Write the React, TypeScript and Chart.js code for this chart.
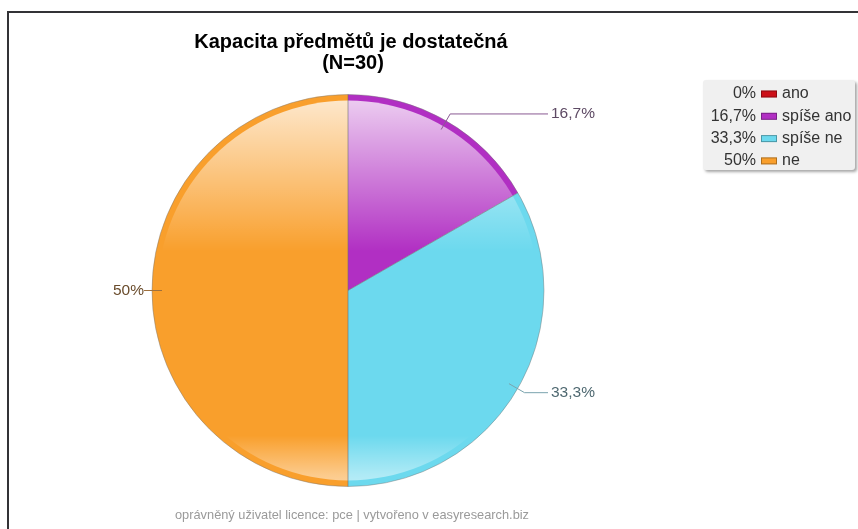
import React, { useEffect, useRef } from "react";
import { Chart, registerables } from "chart.js";

Chart.register(...registerables);

const categories = ["ano", "spíše ano", "spíše ne", "ne"];
const values = [0, 16.7, 33.3, 50];
const percentLabels = ["0%", "16,7%", "33,3%", "50%"];
const colors = ["#cc1018", "#b12fc3", "#6cd9ee", "#f99f2c"];
const labelTextColors = ["#5a3030", "#5e4a64", "#4e6870", "#6a4c2c"];
const labelLineColors = ["#a05050", "#8a5a92", "#7aa4ae", "#a0703c"];
const titleLines = ["Kapacita předmětů je dostatečná", "(N=30)"];
const footerText = "oprávněný uživatel licence: pce | vytvořeno v easyresearch.biz";

const FONT = "Arial, 'Liberation Sans', sans-serif";

const decorPlugin = {
  id: "decor",
  beforeDraw(chart: any) {
    const ctx = chart.ctx;
    ctx.save();
    ctx.fillStyle = "#ffffff";
    ctx.fillRect(0, 0, chart.width, chart.height);
    ctx.strokeStyle = "#333336";
    ctx.lineWidth = 2;
    ctx.beginPath();
    ctx.moveTo(8, chart.height);
    ctx.lineTo(8, 12);
    ctx.lineTo(chart.width, 12);
    ctx.stroke();
    ctx.restore();
  },
  afterDatasetsDraw(chart: any) {
    const ctx = chart.ctx;
    const meta = chart.getDatasetMeta(0);
    const arc0 = meta.data[0];
    const cx = arc0.x;
    const cy = arc0.y;
    const r = arc0.outerRadius;

    // glossy overlay
    ctx.save();
    ctx.beginPath();
    ctx.arc(cx, cy, r - 6, 0, Math.PI * 2);
    ctx.clip();
    const g = ctx.createLinearGradient(0, cy - r, 0, cy + r);
    g.addColorStop(0, "rgba(255,255,255,0.78)");
    g.addColorStop(0.12, "rgba(255,255,255,0.55)");
    g.addColorStop(0.3, "rgba(255,255,255,0.2)");
    g.addColorStop(0.4, "rgba(255,255,255,0)");
    g.addColorStop(0.87, "rgba(255,255,255,0)");
    g.addColorStop(0.97, "rgba(255,255,255,0.45)");
    g.addColorStop(1, "rgba(255,255,255,0.55)");
    ctx.fillStyle = g;
    ctx.fillRect(cx - r, cy - r, 2 * r, 2 * r);
    ctx.restore();

    // separators
    ctx.save();
    ctx.strokeStyle = "rgba(110,110,110,0.6)";
    ctx.lineWidth = 1;
    meta.data.forEach((a: any, i: number) => {
      if (values[i] <= 0) return;
      ctx.beginPath();
      ctx.moveTo(cx, cy);
      ctx.lineTo(cx + r * Math.cos(a.startAngle), cy + r * Math.sin(a.startAngle));
      ctx.stroke();
    });
    ctx.beginPath();
    ctx.arc(cx, cy, r, 0, Math.PI * 2);
    ctx.strokeStyle = "rgba(120,120,120,0.45)";
    ctx.stroke();
    ctx.restore();

    // labels with leader lines
    ctx.save();
    ctx.font = `15.5px ${FONT}`;
    ctx.textBaseline = "middle";
    meta.data.forEach((a: any, i: number) => {
      if (values[i] <= 0) return;
      const mid = (a.startAngle + a.endAngle) / 2;
      const cos = Math.cos(mid);
      const sin = Math.sin(mid);
      const x1 = cx + (r - 10) * cos;
      const y1 = cy + (r - 10) * sin;
      const x2 = cx + (r + 8) * cos;
      const y2 = cy + (r + 8) * sin;
      const right = cos >= 0;
      const x3 = right ? cx + r + 4 : cx - r - 5;
      ctx.strokeStyle = labelLineColors[i];
      ctx.lineWidth = 1;
      ctx.beginPath();
      ctx.moveTo(x1, y1);
      ctx.lineTo(x2, y2);
      ctx.lineTo(x3, y2);
      ctx.stroke();
      ctx.fillStyle = labelTextColors[i];
      ctx.textAlign = right ? "left" : "right";
      ctx.fillText(percentLabels[i], right ? x3 + 3 : x3 - 3, y2);
    });
    ctx.restore();

    // title
    ctx.save();
    ctx.fillStyle = "#000";
    ctx.textAlign = "center";
    ctx.textBaseline = "middle";
    ctx.font = `bold 20px ${FONT}`;
    ctx.fillText(titleLines[0], cx + 3, 42);
    ctx.fillText(titleLines[1], cx + 5, 63);
    // footer
    ctx.font = `12.8px ${FONT}`;
    ctx.fillStyle = "#9a9a9a";
    ctx.fillText(footerText, cx + 4, 515);
    ctx.restore();

    // legend
    ctx.save();
    const bx = 703, by = 80, bw = 152, bh = 90;
    ctx.shadowColor = "rgba(0,0,0,0.35)";
    ctx.shadowBlur = 3;
    ctx.shadowOffsetX = 2;
    ctx.shadowOffsetY = 2;
    ctx.fillStyle = "#f0f0f0";
    ctx.beginPath();
    ctx.roundRect(bx, by, bw, bh, 3);
    ctx.fill();
    ctx.shadowColor = "transparent";
    ctx.font = `16px ${FONT}`;
    ctx.textBaseline = "middle";
    categories.forEach((c, i) => {
      const y = 94 + i * 22.3;
      ctx.fillStyle = "#333";
      ctx.textAlign = "right";
      ctx.fillText(percentLabels[i], 756, y);
      ctx.fillStyle = colors[i];
      ctx.fillRect(761, y - 3.5, 16, 7);
      ctx.strokeStyle = "rgba(0,0,0,0.3)";
      ctx.lineWidth = 1;
      ctx.strokeRect(761.5, y - 3, 15, 6);
      ctx.fillStyle = "#333";
      ctx.textAlign = "left";
      ctx.fillText(c, 782, y);
    });
    ctx.restore();
  },
};

export default function App() {
  const ref = useRef<HTMLCanvasElement | null>(null);
  useEffect(() => {
    if (!ref.current) return;
    const chart = new Chart(ref.current, {
      type: "pie",
      data: {
        labels: categories,
        datasets: [
          {
            data: values,
            backgroundColor: colors,
            borderWidth: 0,
          },
        ],
      },
      options: {
        responsive: false,
        animation: false,
        layout: { padding: { left: 152, top: 93, right: 314, bottom: 41 } },
        plugins: {
          legend: { display: false },
          tooltip: { enabled: false },
          title: { display: false },
        },
      },
      plugins: [decorPlugin],
    });
    return () => chart.destroy();
  }, []);
  return (
    <div style={{ position: "absolute", left: 0, top: 0, width: 858, height: 529 }}>
      <canvas ref={ref} width={858} height={529} />
    </div>
  );
}
